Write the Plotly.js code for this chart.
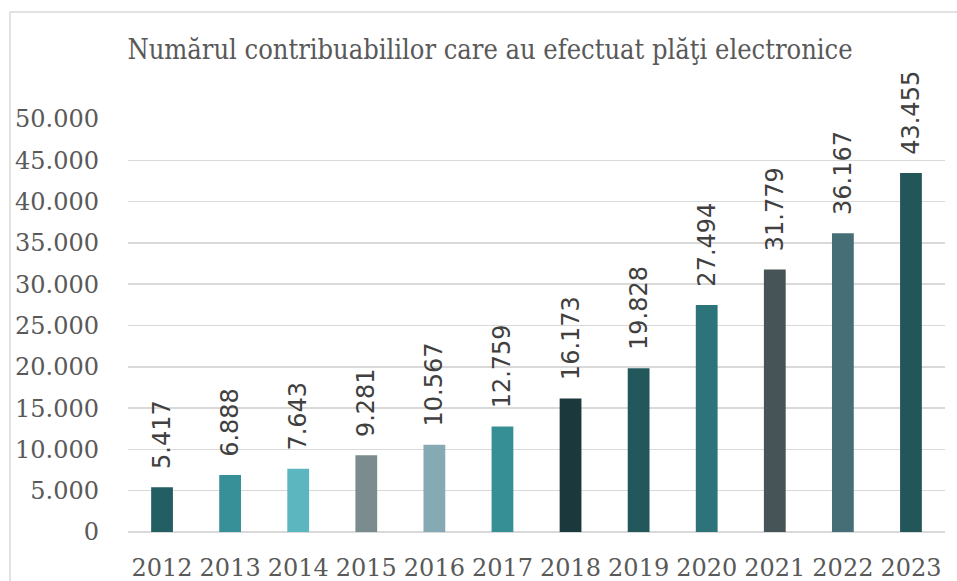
<!DOCTYPE html>
<html>
<head>
<meta charset="utf-8">
<script src="https://cdn.plot.ly/plotly-3.0.1.min.js"></script>
<style>html,body{margin:0;padding:0;background:#fff;}#chart{width:957px;height:581px;}</style>
</head>
<body>
<div id="chart"></div>
<script>
const years = ["2012","2013","2014","2015","2016","2017","2018","2019","2020","2021","2022","2023"];
const values = [5417, 6888, 7643, 9281, 10567, 12759, 16173, 19828, 27494, 31779, 36167, 43455];
const barColors = ["#235E63","#379097","#5BB6C0","#7A8C8E","#86AAB4","#378F96","#1B393D","#22585C","#2C7479","#475457","#466E76","#235659"];
const yTicks = [0, 5000, 10000, 15000, 20000, 25000, 30000, 35000, 40000, 45000, 50000];
const titleText = "Numărul contribuabililor care au efectuat plăţi electronice";

const trace = {
  type: "bar",
  x: years,
  y: values,
  marker: {color: barColors},
  text: values,
  texttemplate: "\u00A0\u00A0%{y:,}",
  textposition: "outside",
  textangle: -90,
  constraintext: "none",
  cliponaxis: false,
  textfont: {family: "DejaVu Sans", size: 24, color: "#404040"},
  hoverinfo: "skip"
};

const layout = {
  width: 957, height: 581,
  margin: {l: 128, r: 12, t: 119, b: 49},
  paper_bgcolor: "#ffffff", plot_bgcolor: "#ffffff",
  separators: ",.",
  showlegend: false,
  bargap: 0.68,
  title: {
    text: titleText,
    font: {family: "DejaVu Serif Condensed, Liberation Serif, serif", size: 27, color: "#595959"},
    xref: "container", x: 0.512, xanchor: "center",
    yref: "container", y: 0.914, yanchor: "middle"
  },
  xaxis: {
    type: "category",
    tickfont: {family: "DejaVu Serif", size: 24, color: "#595959"},
    showgrid: false, showline: false, ticks: "",
    ticklabelstandoff: 19
  },
  yaxis: {
    range: [0, 50000],
    tickvals: yTicks,
    tickformat: ",",
    tickfont: {family: "DejaVu Serif", size: 24, color: "#595959"},
    showgrid: true, gridcolor: "#D9D9D9", gridwidth: 1.5,
    zeroline: true, zerolinecolor: "#D9D9D9", zerolinewidth: 1.5,
    showline: false, ticks: "",
    ticklabelstandoff: 28
  },
  shapes: [{
    type: "rect", xref: "paper", yref: "paper",
    x0: -0.1444, x1: 1.1, y0: -0.2, y1: 1.259,
    line: {color: "#D9D9D9", width: 1.5}, fillcolor: "rgba(0,0,0,0)", layer: "below"
  }]
};

Plotly.newPlot("chart", [trace], layout, {displayModeBar: false, staticPlot: true});
</script>
</body>
</html>
